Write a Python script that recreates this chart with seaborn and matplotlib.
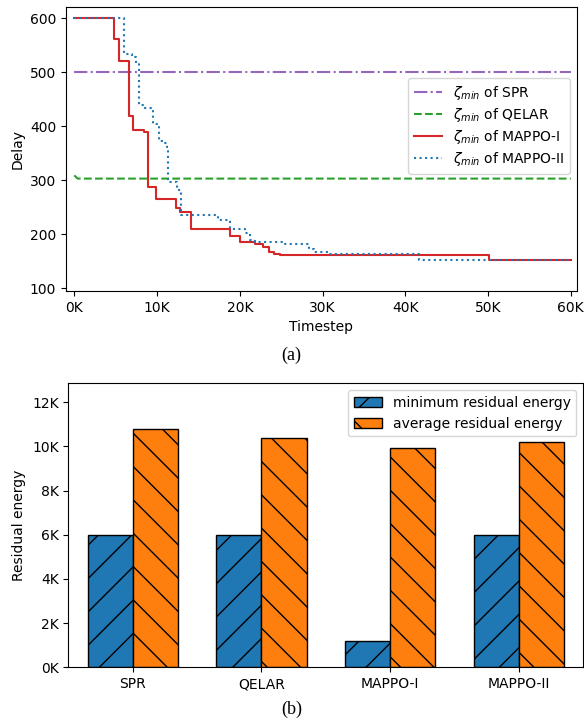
import matplotlib
matplotlib.use("Agg")
import matplotlib.pyplot as plt
from matplotlib.patches import Patch
from matplotlib.ticker import FuncFormatter, MultipleLocator
import seaborn as sns
import pandas as pd

# ---------------- data ----------------
spr_x = [0, 60000]
spr_y = [501, 501]

qelar_x = [0, 400, 60000]
qelar_y = [309, 303, 303]

mappo1_x = [0, 4800, 5400, 6600, 7150, 8450, 8950, 9900, 12300, 12800, 14100,
            18800, 20000, 21800, 22800, 23500, 24100, 24900, 46800, 50100, 60000]
mappo1_y = [600, 561, 520, 418, 392, 389, 288, 265, 249, 242, 209,
            196, 185, 182, 177, 167, 164, 162, 161, 152, 152]

mappo2_x = [0, 6000, 6950, 7450, 7830, 8350, 9500, 10200, 10800, 11200, 11360,
            12450, 12850, 17400, 18800, 20600, 21200, 21800, 25500, 28400, 29000,
            30800, 41700, 60000]
mappo2_y = [600, 534, 528, 517, 439, 433, 404, 372, 369, 362, 297,
            282, 235, 226, 210, 202, 190, 185, 182, 173, 168,
            164, 153, 153]

methods = ["SPR", "QELAR", "MAPPO-I", "MAPPO-II"]
min_energy = [6000, 6000, 1190, 6000]
avg_energy = [10810, 10390, 9940, 10210]
metric_labels = ["minimum residual energy", "average residual energy"]

# ---------------- style ----------------
plt.rcParams.update({
    "font.family": ["DejaVu Sans"],
    "font.size": 10,
})

fig = plt.figure(figsize=(5.84, 7.21), dpi=100)
ax1 = fig.add_axes([0.1130, 0.5964, 0.8750, 0.3935])
ax2 = fig.add_axes([0.1170, 0.0745, 0.8819, 0.3936])

# ---------------- top chart ----------------
sns.lineplot(x=spr_x, y=spr_y, ax=ax1, color="#9467bd", linestyle="-.",
             label=r"$\zeta_{min}$ of SPR", errorbar=None)
sns.lineplot(x=qelar_x, y=qelar_y, ax=ax1, color="#2ca02c", linestyle="--",
             label=r"$\zeta_{min}$ of QELAR", errorbar=None)
sns.lineplot(x=mappo1_x, y=mappo1_y, ax=ax1, color="#d62728", linestyle="-",
             drawstyle="steps-post", label=r"$\zeta_{min}$ of MAPPO-I", errorbar=None)
sns.lineplot(x=mappo2_x, y=mappo2_y, ax=ax1, color="#1f77b4", linestyle=":",
             drawstyle="steps-post", label=r"$\zeta_{min}$ of MAPPO-II", errorbar=None)

ax1.set_xlim(-1000, 60750)
ax1.set_ylim(95, 620)
ax1.xaxis.set_major_locator(MultipleLocator(10000))
ax1.xaxis.set_major_formatter(FuncFormatter(lambda v, p: f"{int(round(v / 1000))}K"))
ax1.yaxis.set_major_locator(MultipleLocator(100))
ax1.set_xlabel("Timestep")
ax1.set_ylabel("Delay")
ax1.legend(loc="upper right", bbox_to_anchor=(0.986, 0.75), borderaxespad=0,
           labelspacing=0.3)

# ---------------- bottom chart ----------------
df = pd.DataFrame({
    "method": methods * 2,
    "metric": [metric_labels[0]] * 4 + [metric_labels[1]] * 4,
    "value": min_energy + avg_energy,
})
colors = ["#1f77b4", "#ff7f0e"]
hatches = ["/", "\\"]
sns.barplot(data=df, x="method", y="value", hue="metric", palette=colors,
            edgecolor="black", linewidth=1.0, width=0.7, saturation=1,
            errorbar=None, legend=False, ax=ax2)
for cont, h in zip(ax2.containers, hatches):
    for bar in cont:
        bar.set_hatch(h)

ax2.set_ylim(0, 12850)
ax2.yaxis.set_major_locator(MultipleLocator(2000))
ax2.yaxis.set_major_formatter(FuncFormatter(lambda v, p: f"{int(round(v / 1000))}K"))
ax2.set_xlabel("")
ax2.set_ylabel("Residual energy")
handles = [Patch(facecolor=c, edgecolor="black", hatch=h, linewidth=1.0)
           for c, h in zip(colors, hatches)]
ax2.legend(handles, metric_labels, loc="upper right")

fig.text(291.7 / 584, 1 - 355 / 721, "(a)", ha="center", va="center",
         family="Liberation Serif", size=13)
fig.text(291.7 / 584, 1 - 709 / 721, "(b)", ha="center", va="center",
         family="Liberation Serif", size=13)

fig.savefig("out.png", dpi=100)
